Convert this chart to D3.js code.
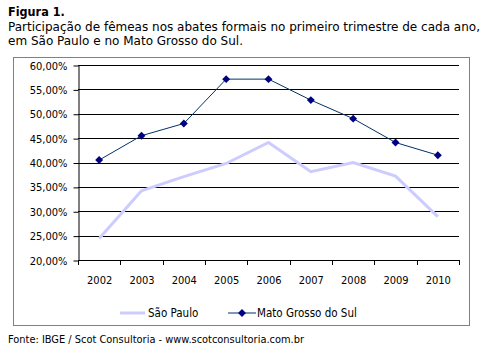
<!DOCTYPE html>
<html>
<head>
<meta charset="utf-8">
<script src="https://cdn.jsdelivr.net/npm/d3@7"></script>
<style>
  body { margin: 0; background: #fff; }
  text { font-family: "DejaVu Sans Condensed", "DejaVu Sans", sans-serif; }
</style>
</head>
<body>
<div id="grafico"></div>
<script>
const anos = ["2002", "2003", "2004", "2005", "2006", "2007", "2008", "2009", "2010"];
const saoPaulo = [24.4, 34.2, 37.1, 39.8, 44.1, 38.1, 40.0, 37.2, 28.9];
const matoGrosso = [40.5, 45.5, 48.0, 57.1, 57.1, 52.8, 49.0, 44.1, 41.5];
const ticksY = [20, 25, 30, 35, 40, 45, 50, 55, 60];

const W = 484, H = 351;
const margin = { top: 65, left: 78, right: 25, bottom: 91 };

const svg = d3.select("#grafico").append("svg")
    .attr("width", W).attr("height", H);

// titulo
svg.append("text").attr("x", 8).attr("y", 16)
    .attr("font-size", 12.5).attr("font-weight", "bold").attr("fill", "#000")
    .text("Figura 1.");
svg.append("text").attr("x", 8).attr("y", 31)
    .attr("font-size", 12.5).attr("fill", "#000")
    .attr("textLength", 472).attr("lengthAdjust", "spacingAndGlyphs")
    .text("Participação de fêmeas nos abates formais no primeiro trimestre de cada ano,");
svg.append("text").attr("x", 8).attr("y", 45)
    .attr("font-size", 12.5).attr("fill", "#000")
    .attr("textLength", 235).attr("lengthAdjust", "spacingAndGlyphs")
    .text("em São Paulo e no Mato Grosso do Sul.");

// borda do grafico
svg.append("rect").attr("x", 13.5).attr("y", 57.5).attr("width", 456).attr("height", 268)
    .attr("fill", "none").attr("stroke", "#808080").attr("stroke-width", 1);

const width = W - margin.left - margin.right;
const height = H - margin.top - margin.bottom - 195 + 195;

const x = d3.scaleBand().domain(anos).range([78, 459]);
const y = d3.scaleLinear().domain([20, 60]).range([260, 65]);

// grade
svg.append("g").selectAll("line").data(ticksY.slice(1)).enter().append("line")
    .attr("x1", 78).attr("x2", 459)
    .attr("y1", d => Math.round(y(d)) + 0.5).attr("y2", d => Math.round(y(d)) + 0.5)
    .attr("stroke", "#000").attr("stroke-width", 1);

// eixo Y
const eixoY = svg.append("g").attr("transform", "translate(78.5,0.5)")
    .call(d3.axisLeft(y).tickValues(ticksY).tickSize(5).tickSizeOuter(0)
        .tickFormat(d => d.toFixed(2).replace(".", ",") + "%"));
eixoY.selectAll("text").attr("font-size", 11).attr("fill", "#000").attr("x", -11)
    .attr("font-family", "DejaVu Sans Condensed, DejaVu Sans, sans-serif");
eixoY.select(".domain").attr("stroke", "#000");
eixoY.selectAll(".tick line").attr("stroke", "#000");

// eixo X
const eixoX = svg.append("g").attr("transform", "translate(0.5,260.5)")
    .call(d3.axisBottom(x).tickSize(0).tickPadding(16));
eixoX.select(".domain").attr("stroke", "#000").attr("d", "M78,0H459");
eixoX.selectAll("text").attr("font-size", 11).attr("fill", "#000")
    .attr("font-family", "DejaVu Sans Condensed, DejaVu Sans, sans-serif");
svg.append("g").selectAll("line").data(d3.range(anos.length + 1)).enter().append("line")
    .attr("x1", i => Math.round(78 + i * x.step()) + 0.5)
    .attr("x2", i => Math.round(78 + i * x.step()) + 0.5)
    .attr("y1", 260).attr("y2", 265)
    .attr("stroke", "#000");

const cx = d => x(d) + x.bandwidth() / 2;

// Sao Paulo
const linha = d3.line().x((d, i) => cx(anos[i])).y(d => y(d));
svg.append("path").datum(saoPaulo)
    .attr("d", linha).attr("fill", "none")
    .attr("stroke", "#ccccff").attr("stroke-width", 3).attr("stroke-linejoin", "miter");

// Mato Grosso do Sul
svg.append("path").datum(matoGrosso)
    .attr("d", linha).attr("fill", "none")
    .attr("stroke", "#003366").attr("stroke-width", 1);

const diamante = d3.symbol().type(d3.symbolDiamond2).size(40);
svg.append("g").selectAll("path").data(matoGrosso).enter().append("path")
    .attr("d", diamante)
    .attr("transform", (d, i) => `translate(${cx(anos[i])},${y(d)})`)
    .attr("fill", "#000080");

// legenda
const leg = svg.append("g");
leg.append("line").attr("x1", 120).attr("x2", 145).attr("y1", 313).attr("y2", 313)
    .attr("stroke", "#ccccff").attr("stroke-width", 3);
leg.append("text").attr("x", 148).attr("y", 317).attr("font-size", 11.5).attr("fill", "#000")
    .text("São Paulo");
leg.append("line").attr("x1", 228).attr("x2", 256).attr("y1", 313).attr("y2", 313)
    .attr("stroke", "#003366").attr("stroke-width", 1);
leg.append("path").attr("d", diamante).attr("transform", "translate(242,313)").attr("fill", "#000080");
leg.append("text").attr("x", 257).attr("y", 317).attr("font-size", 11.5).attr("fill", "#000")
    .text("Mato Grosso do Sul");

// fonte
svg.append("text").attr("x", 8).attr("y", 343).attr("font-size", 10.5).attr("fill", "#000")
    .attr("textLength", 296).attr("lengthAdjust", "spacingAndGlyphs")
    .text("Fonte: IBGE / Scot Consultoria - www.scotconsultoria.com.br");
</script>
</body>
</html>
